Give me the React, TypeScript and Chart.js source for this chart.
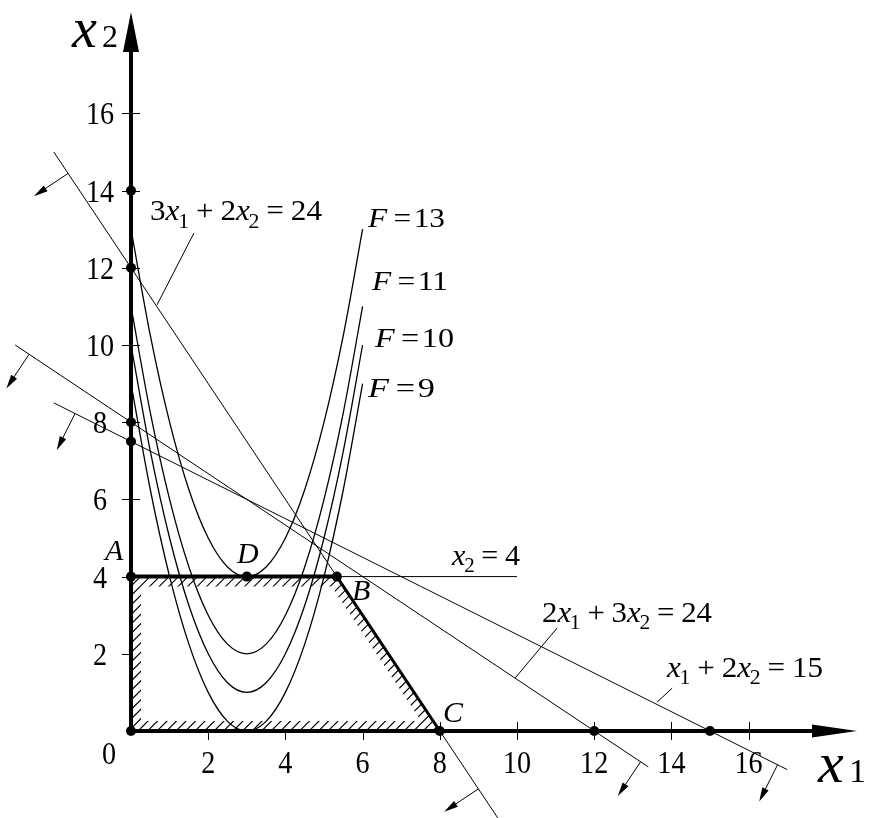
import React, { useEffect, useRef } from 'react';
import { Chart, registerables } from 'chart.js';

Chart.register(...registerables);

// ---- scale ranges (data units) ----
const X_MIN = -3.394;
const X_MAX = 19.171;
const Y_MIN = -2.254;
const Y_MAX = 18.938;
const X_ARROW_TIP = 18.808;
const Y_ARROW_TIP = 18.627;

// ---- ticks ----
const X_TICKS = [2, 4, 6, 8, 10, 12, 14, 16];
const Y_TICKS = [2, 4, 6, 8, 10, 12, 14, 16];
const X_TICK_LABELS = ['2', '4', '6', '8', '10', '12', '14', '16'];
const Y_TICK_LABELS = ['2', '4', '6', '8', '10', '12', '14', '16'];

// ---- level curves F ----
const PARAB_X = [0, 0.5, 1, 1.5, 2, 2.5, 3, 3.5, 4, 4.5, 5, 5.5, 6];
const F9 = [9, 6.25, 4, 2.25, 1, 0.25, 0, 0.25, 1, 2.25, 4, 6.25, 9];
const F10 = [10, 7.25, 5, 3.25, 2, 1.25, 1, 1.25, 2, 3.25, 5, 7.25, 10];
const F11 = [11, 8.25, 6, 4.25, 3, 2.25, 2, 2.25, 3, 4.25, 6, 8.25, 11];
const F13 = [13, 10.25, 8, 6.25, 5, 4.25, 4, 4.25, 5, 6.25, 8, 10.25, 13];

// ---- constraint lines ----
const L1_X = [-2, 9.5]; // 3x1 + 2x2 = 24
const L1_Y = [15, -2.25];
const L2_X = [-3, 13.4]; // 2x1 + 3x2 = 24
const L2_Y = [10, -0.93];
const L3_X = [-2, 17]; // x1 + 2x2 = 15
const L3_Y = [8.5, -1];
const L4_X = [0, 10]; // x2 = 4
const L4_Y = [4, 4];

// ---- feasible region boundary ----
const AB_X = [0, 5.333];
const AB_Y = [4, 4];
const BC_X = [5.333, 8];
const BC_Y = [4, 0];
const REGION_X = [0, 0, 5.333, 8];
const REGION_Y = [0, 4, 4, 0];

// ---- leader lines ----
const LEAD1_X = [1.63, 0.674];
const LEAD1_Y = [12.9, 11.04];
const LEAD2_X = [11.04, 9.95];
const LEAD2_Y = [2.67, 1.37];
const LEAD3_X = [14.02, 13.63];
const LEAD3_Y = [1.11, 0.75];

// ---- marked points ----
const DOT_X = [0, 0, 0, 0, 0, 0, 3, 5.333, 8, 12, 15];
const DOT_Y = [0, 4, 7.5, 8, 12, 14, 4, 4, 0, 0, 0];

// ---- side arrows: anchor x, anchor y, direction dx, dy ----
const ARROW_AX = [-1.63, 9.0, -2.64, 13.2, -1.45, 16.75];
const ARROW_AY = [14.445, -1.5, 9.76, -0.8, 8.225, -0.875];
const ARROW_DX = [-3, -3, -2, -2, -1, -1];
const ARROW_DY = [-2, -2, -3, -3, -2, -2];

// ---- text labels ----
type Seg = { t?: string; it?: boolean; sub?: boolean; g?: number };
const G = 0.22;
const LABEL_SEGS: Seg[][] = [
  [{ t: '3' }, { t: 'x', it: true }, { t: '1', sub: true }, { g: G }, { t: '+' }, { g: G }, { t: '2' }, { t: 'x', it: true }, { t: '2', sub: true }, { g: G }, { t: '=' }, { g: G }, { t: '24' }],
  [{ t: 'x', it: true }, { t: '2', sub: true }, { g: G }, { t: '=' }, { g: G }, { t: '4' }],
  [{ t: '2' }, { t: 'x', it: true }, { t: '1', sub: true }, { g: G }, { t: '+' }, { g: G }, { t: '3' }, { t: 'x', it: true }, { t: '2', sub: true }, { g: G }, { t: '=' }, { g: G }, { t: '24' }],
  [{ t: 'x', it: true }, { t: '1', sub: true }, { g: G }, { t: '+' }, { g: G }, { t: '2' }, { t: 'x', it: true }, { t: '2', sub: true }, { g: G }, { t: '=' }, { g: G }, { t: '15' }],
  [{ t: 'F', it: true }, { g: 0.2 }, { t: '=' }, { g: 0.08 }, { t: '13' }],
  [{ t: 'F', it: true }, { g: 0.2 }, { t: '=' }, { g: 0.08 }, { t: '11' }],
  [{ t: 'F', it: true }, { g: 0.2 }, { t: '=' }, { g: 0.08 }, { t: '10' }],
  [{ t: 'F', it: true }, { g: 0.2 }, { t: '=' }, { g: 0.08 }, { t: '9' }],
];
const LABEL_X = [0.492, 8.316, 10.648, 13.886, 6.14, 6.244, 6.321, 6.14];
const LABEL_Y = [13.238, 4.301, 2.824, 1.399, 13.057, 11.425, 9.948, 8.653];
const LABEL_W = [172, 68, 170, 156, 77, 76, 79, 67];
const LABEL_SIZE = [30, 29, 30, 30, 28, 28, 28, 28];

const LETTERS = ['A', 'D', 'B', 'C'];
const LETTER_X = [-0.674, 2.746, 5.725, 8.083];
const LETTER_Y = [4.43, 4.352, 3.394, 0.233];

const FONT = '"Liberation Serif", "Times New Roman", serif';

function drawRich(ctx: CanvasRenderingContext2D, segs: Seg[], x: number, y: number, size: number, targetW?: number) {
  const sub = size * 0.7;
  const fontOf = (s: Seg) => `${s.it ? 'italic ' : ''}${s.sub ? sub : size}px ${FONT}`;
  let total = 0;
  const widths = segs.map((s) => {
    let w = 0;
    if (s.g !== undefined) w = s.g * size;
    else {
      ctx.font = fontOf(s);
      w = ctx.measureText(s.t || '').width;
      if (s.sub) w -= size * 0.04;
    }
    total += w;
    return w;
  });
  ctx.save();
  ctx.translate(x, y);
  if (targetW) ctx.scale(targetW / total, 1);
  ctx.textAlign = 'left';
  ctx.textBaseline = 'alphabetic';
  let cx = 0;
  segs.forEach((s, i) => {
    if (s.t) {
      ctx.font = fontOf(s);
      ctx.fillText(s.t, cx - (s.sub ? size * 0.04 : 0), s.sub ? size * 0.25 : 0);
    }
    cx += widths[i];
  });
  ctx.restore();
}

function insetPolygon(pts: number[][], d: number): number[][] {
  const n = pts.length;
  const cx = pts.reduce((a, p) => a + p[0], 0) / n;
  const cy = pts.reduce((a, p) => a + p[1], 0) / n;
  const lines = pts.map((p, i) => {
    const q = pts[(i + 1) % n];
    const ux = q[0] - p[0];
    const uy = q[1] - p[1];
    const len = Math.hypot(ux, uy);
    let nx = -uy / len;
    let ny = ux / len;
    if ((cx - p[0]) * nx + (cy - p[1]) * ny < 0) {
      nx = -nx;
      ny = -ny;
    }
    return { px: p[0] + nx * d, py: p[1] + ny * d, ux, uy };
  });
  return lines.map((l, i) => {
    const m = lines[(i - 1 + n) % n];
    const den = m.ux * l.uy - m.uy * l.ux;
    const t = ((l.px - m.px) * l.uy - (l.py - m.py) * l.ux) / den;
    return [m.px + m.ux * t, m.py + m.uy * t];
  });
}

const figurePlugin = {
  id: 'figure',
  beforeDatasetsDraw(chart: any) {
    const ctx: CanvasRenderingContext2D = chart.ctx;
    const xs = chart.scales.x;
    const ys = chart.scales.y;
    const X = (v: number) => xs.getPixelForValue(v);
    const Y = (v: number) => ys.getPixelForValue(v);
    ctx.save();
    ctx.strokeStyle = '#000';
    ctx.fillStyle = '#000';

    // hatching inside feasible region
    const poly = REGION_X.map((x, i) => [X(x), Y(REGION_Y[i])]);
    const inner = insetPolygon(poly, 10);
    ctx.save();
    ctx.beginPath();
    poly.forEach((p, i) => (i ? ctx.lineTo(p[0], p[1]) : ctx.moveTo(p[0], p[1])));
    ctx.closePath();
    inner.forEach((p, i) => (i ? ctx.lineTo(p[0], p[1]) : ctx.moveTo(p[0], p[1])));
    ctx.closePath();
    ctx.clip('evenodd');
    const minX = Math.min(...poly.map((p) => p[0]));
    const maxX = Math.max(...poly.map((p) => p[0]));
    const minY = Math.min(...poly.map((p) => p[1]));
    const maxY = Math.max(...poly.map((p) => p[1]));
    ctx.lineWidth = 1.1;
    ctx.beginPath();
    for (let c = minX + minY; c <= maxX + maxY; c += 9.5) {
      ctx.moveTo(c - maxY, maxY);
      ctx.lineTo(c - minY, minY);
    }
    ctx.stroke();
    ctx.restore();

    // axes
    const ox = X(0);
    const oy = Y(0);
    const ty = Y(Y_ARROW_TIP);
    const tx = X(X_ARROW_TIP);
    ctx.lineWidth = 4;
    ctx.beginPath();
    ctx.moveTo(ox, oy);
    ctx.lineTo(ox, ty + 36);
    ctx.moveTo(ox, oy);
    ctx.lineTo(tx - 40, oy);
    ctx.stroke();
    ctx.beginPath();
    ctx.moveTo(ox, ty);
    ctx.lineTo(ox - 8, ty + 40);
    ctx.lineTo(ox + 8, ty + 40);
    ctx.closePath();
    ctx.fill();
    ctx.beginPath();
    ctx.moveTo(tx, oy);
    ctx.lineTo(tx - 45, oy - 6.5);
    ctx.lineTo(tx - 45, oy + 6.5);
    ctx.closePath();
    ctx.fill();

    // ticks
    ctx.lineWidth = 1;
    ctx.beginPath();
    Y_TICKS.forEach((v) => {
      const py = Math.round(Y(v)) + 0.5;
      ctx.moveTo(ox - 9, py);
      ctx.lineTo(v <= 4 ? ox : ox + 9, py);
    });
    X_TICKS.forEach((v) => {
      const px = Math.round(X(v)) + 0.5;
      ctx.moveTo(px, v <= 6 ? oy : oy - 9);
      ctx.lineTo(px, oy + 9);
    });
    ctx.stroke();

    // tick labels
    const tickLabel = (t: string, cx: number, base: number) => {
      ctx.save();
      ctx.font = `32px ${FONT}`;
      ctx.textAlign = 'center';
      ctx.textBaseline = 'alphabetic';
      ctx.translate(cx, base);
      ctx.scale(0.88, 1);
      ctx.fillText(t, 0, 0);
      ctx.restore();
    };
    Y_TICKS.forEach((v, i) => tickLabel(Y_TICK_LABELS[i], ox - 31, Y(v) + 11));
    X_TICKS.forEach((v, i) => tickLabel(X_TICK_LABELS[i], X(v), oy + 42));
    tickLabel('0', ox - 22, oy + 33);
    ctx.restore();
  },
  afterDatasetsDraw(chart: any) {
    const ctx: CanvasRenderingContext2D = chart.ctx;
    const xs = chart.scales.x;
    const ys = chart.scales.y;
    const X = (v: number) => xs.getPixelForValue(v);
    const Y = (v: number) => ys.getPixelForValue(v);
    ctx.save();
    ctx.strokeStyle = '#000';
    ctx.fillStyle = '#000';

    // side arrows
    ARROW_AX.forEach((ax, i) => {
      const x0 = X(ax);
      const y0 = Y(ARROW_AY[i]);
      const dx = ARROW_DX[i];
      const dy = -ARROW_DY[i];
      const len = Math.hypot(dx, dy);
      const ux = dx / len;
      const uy = dy / len;
      const L = 41;
      const x1 = x0 + ux * L;
      const y1 = y0 + uy * L;
      ctx.lineWidth = 1;
      ctx.beginPath();
      ctx.moveTo(x0, y0);
      ctx.lineTo(x1 - ux * 10, y1 - uy * 10);
      ctx.stroke();
      ctx.beginPath();
      ctx.moveTo(x1, y1);
      ctx.lineTo(x1 - ux * 14 - uy * 3.5, y1 - uy * 14 + ux * 3.5);
      ctx.lineTo(x1 - ux * 14 + uy * 3.5, y1 - uy * 14 - ux * 3.5);
      ctx.closePath();
      ctx.fill();
    });

    // equation labels
    LABEL_SEGS.forEach((segs, i) => drawRich(ctx, segs, X(LABEL_X[i]), Y(LABEL_Y[i]), LABEL_SIZE[i], LABEL_W[i]));

    // point letters
    LETTERS.forEach((l, i) => {
      ctx.font = `italic 30px ${FONT}`;
      ctx.textAlign = 'left';
      ctx.textBaseline = 'alphabetic';
      ctx.fillText(l, X(LETTER_X[i]), Y(LETTER_Y[i]));
    });

    // axis titles
    drawRich(ctx, [{ t: 'x', it: true }], X(-1.528), Y(17.72), 56);
    ctx.font = `32px ${FONT}`;
    ctx.textAlign = 'left';
    ctx.fillText('2', X(-0.75), Y(17.72));
    drawRich(ctx, [{ t: 'x', it: true }], X(17.798), Y(-1.321), 58);
    ctx.font = `34px ${FONT}`;
    ctx.fillText('1', X(18.6), Y(-1.321));
    ctx.restore();
  },
};

function lineDs(xv: number[], yv: number[], width: number, extra: any = {}) {
  return {
    data: xv.map((x, i) => ({ x, y: yv[i] })),
    borderColor: '#000',
    backgroundColor: '#000',
    borderWidth: width,
    pointRadius: 0,
    fill: false,
    tension: 0,
    order: 2,
    ...extra,
  };
}

export default function App() {
  const ref = useRef<HTMLCanvasElement | null>(null);
  useEffect(() => {
    if (!ref.current) return;
    const curve = { cubicInterpolationMode: 'monotone' };
    const chart = new Chart(ref.current, {
      type: 'line',
      data: {
        datasets: [
          {
            data: DOT_X.map((x, i) => ({ x, y: DOT_Y[i] })),
            showLine: false,
            pointRadius: 5,
            pointBackgroundColor: '#000',
            pointBorderColor: '#000',
            pointBorderWidth: 0,
            order: 0,
          } as any,
          lineDs(AB_X, AB_Y, 4, { order: 1 }),
          lineDs(BC_X, BC_Y, 3, { order: 1 }),
          lineDs(PARAB_X, F9, 1.3, curve),
          lineDs(PARAB_X, F10, 1.3, curve),
          lineDs(PARAB_X, F11, 1.3, curve),
          lineDs(PARAB_X, F13, 1.3, curve),
          lineDs(L1_X, L1_Y, 1),
          lineDs(L2_X, L2_Y, 1),
          lineDs(L3_X, L3_Y, 1),
          lineDs(L4_X, L4_Y, 1),
          lineDs(LEAD1_X, LEAD1_Y, 1),
          lineDs(LEAD2_X, LEAD2_Y, 1),
          lineDs(LEAD3_X, LEAD3_Y, 1),
        ],
      },
      options: {
        responsive: false,
        animation: false,
        devicePixelRatio: 1,
        events: [],
        layout: { padding: 0, autoPadding: false },
        plugins: { legend: { display: false }, tooltip: { enabled: false }, title: { display: false } },
        scales: {
          x: { type: 'linear', min: X_MIN, max: X_MAX, display: false },
          y: { type: 'linear', min: Y_MIN, max: Y_MAX, display: false },
        },
      } as any,
      plugins: [figurePlugin],
    });
    return () => chart.destroy();
  }, []);
  return (
    <div style={{ position: 'absolute', left: 0, top: 0, width: 871, height: 818, background: '#fff' }}>
      <canvas ref={ref} width={871} height={818} style={{ display: 'block' }} />
    </div>
  );
}
